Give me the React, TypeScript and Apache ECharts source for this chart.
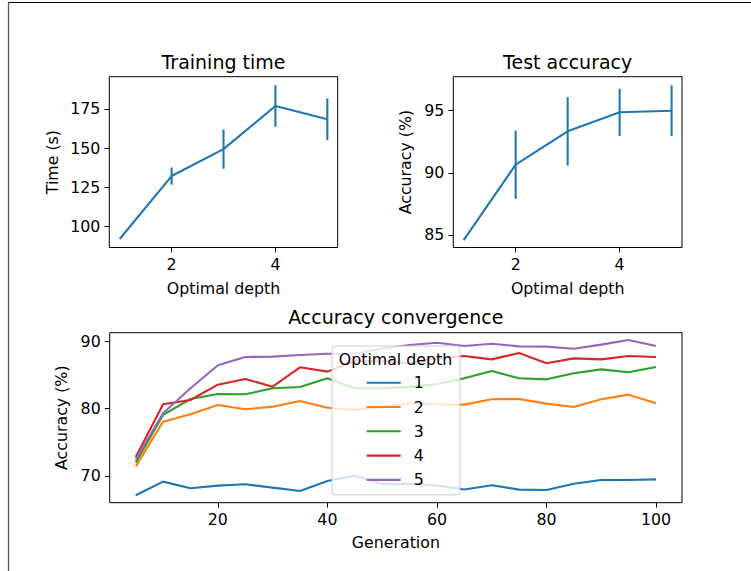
import React, { useEffect, useRef } from "react";
import * as echarts from "echarts";

// ---- data ----
const depth = [1, 2, 3, 4, 5];
const timeMean = [92.0, 132.2, 149.4, 176.9, 168.4];
const timeErr = [0, 5.5, 12.5, 13.3, 13.3];
const accMean = [84.57, 90.65, 93.34, 94.87, 95.0];
const accErr = [0, 2.75, 2.75, 1.9, 2.05];

const generations = [5, 10, 15, 20, 25, 30, 35, 40, 45, 50, 55, 60, 65, 70, 75, 80, 85, 90, 95, 100];
const depthLabels = ["1", "2", "3", "4", "5"];
const conv1 = [67.14, 69.16, 68.17, 68.57, 68.77, 68.27, 67.78, 69.26, 70.05, 68.8, 68.85, 68.6, 68.0, 68.62, 67.98, 67.93, 68.86, 69.41, 69.41, 69.5];
const conv2 = [71.38, 78.05, 79.14, 80.52, 79.88, 80.27, 81.11, 80.12, 79.78, 80.2, 80.77, 80.62, 80.57, 81.36, 81.41, 80.72, 80.22, 81.36, 82.05, 80.77];
const conv3 = [71.98, 79.04, 81.41, 82.15, 82.1, 82.99, 83.19, 84.47, 82.99, 83.0, 83.2, 83.58, 84.47, 85.56, 84.47, 84.32, 85.21, 85.8, 85.36, 86.15];
const conv4 = [72.81, 80.62, 81.26, 83.53, 84.37, 83.23, 86.1, 85.46, 87.0, 87.0, 86.7, 87.4, 87.78, 87.28, 88.22, 86.69, 87.43, 87.28, 87.78, 87.63];
const conv5 = [72.47, 79.3, 82.99, 86.4, 87.63, 87.68, 87.93, 88.12, 88.1, 88.9, 89.4, 89.75, 89.26, 89.6, 89.21, 89.16, 88.86, 89.46, 90.15, 89.26];
const convSeries = [conv1, conv2, conv3, conv4, conv5];

const depthTicks = [2, 4];
const timeTicks = [100, 125, 150, 175];
const accTicks = [85, 90, 95];
const genTicks = [20, 40, 60, 80, 100];
const convTicks = [70, 80, 90];

const COLORS = ["#1f77b4", "#ff7f0e", "#2ca02c", "#d62728", "#9467bd"];
const FONT = "DejaVu Sans";
const FS = 15.8;
const TFS = 19;

function axis(extra: any, ticks: number[]) {
  return {
    type: "value",
    axisLine: { show: false },
    splitLine: { show: false },
    axisTick: {
      show: true,
      inside: false,
      length: 4.9,
      lineStyle: { color: "#000", width: 1 },
      customValues: ticks,
    },
    axisLabel: {
      customValues: ticks,
      margin: 9,
      fontSize: FS,
      color: "#000",
      fontFamily: FONT,
    },
    nameLocation: "middle",
    nameTextStyle: { fontSize: FS, color: "#000", fontFamily: FONT },
    ...extra,
  };
}

function errorSeries(xi: number, means: number[], errs: number[]) {
  return {
    type: "custom",
    xAxisIndex: xi,
    yAxisIndex: xi,
    z: 3,
    data: depth.map((d, i) => [d, means[i], errs[i]]),
    encode: { x: 0, y: 1 },
    renderItem: (_p: any, api: any) => {
      const x = api.value(0);
      const m = api.value(1);
      const e = api.value(2);
      const lo = api.coord([x, m - e]);
      const hi = api.coord([x, m + e]);
      return {
        type: "line",
        shape: { x1: lo[0], y1: lo[1], x2: hi[0], y2: hi[1] },
        style: { stroke: COLORS[0], lineWidth: 2.1 },
      };
    },
  };
}

export default function App() {
  const ref = useRef<HTMLDivElement>(null);
  useEffect(() => {
    document.body.style.margin = "0";
    if (!ref.current) return;
    const chart = echarts.init(ref.current, null, { renderer: "svg" });
    const option: any = {
      animation: false,
      backgroundColor: "#fff",
      textStyle: { fontFamily: FONT },
      grid: [
        { left: 109.3, top: 76.7, width: 228.4, height: 170.8, show: true, borderColor: "#000", borderWidth: 1, backgroundColor: "transparent" },
        { left: 453.3, top: 76.7, width: 228.7, height: 170.8, show: true, borderColor: "#000", borderWidth: 1, backgroundColor: "transparent" },
        { left: 109.7, top: 332.7, width: 572.3, height: 170, show: true, borderColor: "#000", borderWidth: 1, backgroundColor: "transparent" },
      ],
      xAxis: [
        axis({ gridIndex: 0, min: 0.8, max: 5.2, name: "Optimal depth", nameGap: 32.5 }, depthTicks),
        axis({ gridIndex: 1, min: 0.8, max: 5.2, name: "Optimal depth", nameGap: 32.5 }, depthTicks),
        axis({ gridIndex: 2, min: 0.25, max: 104.75, name: "Generation", nameGap: 31.5 }, genTicks),
      ],
      yAxis: [
        axis({ gridIndex: 0, min: 86.6, max: 195.6, name: "Time (s)", nameGap: 49 }, timeTicks),
        axis({ gridIndex: 1, min: 83.98, max: 97.74, name: "Accuracy (%)", nameGap: 40 }, accTicks),
        axis({ gridIndex: 2, min: 66.04, max: 91.23, name: "Accuracy (%)", nameGap: 39 }, convTicks),
      ],
      legend: {
        data: depthLabels,
        orient: "vertical",
        left: 332,
        top: 346,
        icon: "rect",
        itemWidth: 34,
        itemHeight: 2.1,
        itemGap: 8.3,
        padding: [28.7, 36.2, 7, 34.7],
        backgroundColor: "rgba(255,255,255,0.8)",
        borderColor: "#cccccc",
        borderWidth: 1,
        borderRadius: 3,
        selectedMode: false,
        textStyle: { fontSize: FS, lineHeight: 16, color: "#000", fontFamily: FONT, padding: [0, 0, 0, 8] },
      },
      graphic: [
        { type: "line", shape: { x1: 8, y1: 2.5, x2: 751, y2: 2.5 }, style: { stroke: "#000", lineWidth: 1 }, z: 100 },
        { type: "line", shape: { x1: 8.5, y1: 2, x2: 8.5, y2: 571 }, style: { stroke: "#555", lineWidth: 1.3 }, z: 100 },
        { type: "text", x: 223.5, y: 62.3, z: 100, style: { text: "Training time", fontSize: TFS, fontFamily: FONT, fill: "#000", align: "center", verticalAlign: "middle" } },
        { type: "text", x: 567.7, y: 62.3, z: 100, style: { text: "Test accuracy", fontSize: TFS, fontFamily: FONT, fill: "#000", align: "center", verticalAlign: "middle" } },
        { type: "text", x: 395.8, y: 317.4, z: 100, style: { text: "Accuracy convergence", fontSize: TFS, fontFamily: FONT, fill: "#000", align: "center", verticalAlign: "middle" } },
        { type: "text", x: 395.5, y: 359.6, z: 100, style: { text: "Optimal depth", fontSize: FS, fontFamily: FONT, fill: "#000", align: "center", verticalAlign: "middle" } },
      ],
      series: [
        {
          type: "line",
          name: "Training time",
          xAxisIndex: 0,
          yAxisIndex: 0,
          data: depth.map((d, i) => [d, timeMean[i]]),
          symbol: "none",
          color: COLORS[0],
          lineStyle: { width: 2.1, color: COLORS[0] },
          z: 2,
        },
        errorSeries(0, timeMean, timeErr),
        {
          type: "line",
          name: "Test accuracy",
          xAxisIndex: 1,
          yAxisIndex: 1,
          data: depth.map((d, i) => [d, accMean[i]]),
          symbol: "none",
          color: COLORS[0],
          lineStyle: { width: 2.1, color: COLORS[0] },
          z: 2,
        },
        errorSeries(1, accMean, accErr),
        ...convSeries.map((vals, k) => ({
          type: "line",
          name: depthLabels[k],
          xAxisIndex: 2,
          yAxisIndex: 2,
          data: generations.map((g, i) => [g, vals[i]]),
          symbol: "none",
          color: COLORS[k],
          lineStyle: { width: 2.1, color: COLORS[k] },
          z: 2,
        })),
      ],
    };
    chart.setOption(option);
    return () => chart.dispose();
  }, []);
  return <div ref={ref} style={{ width: 751, height: 571 }} />;
}
